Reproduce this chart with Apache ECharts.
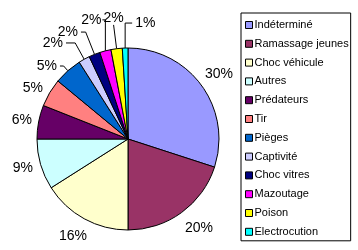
<!DOCTYPE html>
<html><head><meta charset="utf-8">
<script src="https://cdn.jsdelivr.net/npm/echarts@6/dist/echarts.min.js"></script>
<style>html,body{margin:0;padding:0;background:#fff}#c{width:358px;height:250px}</style>
</head><body><div id="c"></div>
<script>
const categories = ['Indéterminé','Ramassage jeunes','Choc véhicule','Autres','Prédateurs','Tir','Pièges','Captivité','Choc vitres','Mazoutage','Poison','Electrocution'];
const values = [30, 20, 16, 9, 6, 5, 5, 2, 2, 2, 2, 1];
const colors = ['#9999FF','#993366','#FFFFCC','#CCFFFF','#660066','#FF8080','#0066CC','#CCCCFF','#000080','#FF00FF','#FFFF00','#00FFFF'];

// label placement styling (leader line lengths per slice)
const lineLen  = [19.5, 19, 19.7, 13, 10.6, 9.2, 6.3, 18.6, 24, 32, 24, 25];
const lineLen2 = [-15.4, -10.7, -15.4, -7.8, -6.8, -4.3, 3.7, 9.2, 4.7, 0, 0, 0];
const showLine = [false,false,false,false,false,false,true,true,true,true,true,true];

const font = 'Liberation Sans, Arial, sans-serif';
const chart = echarts.init(document.getElementById('c'));
const data = categories.map((n,i)=>({
  name:n, value:values[i],
  labelLine:{show: showLine[i], length: lineLen[i], length2: lineLen2[i]}
}));
chart.setOption({
  animation:false,
  color:colors,
  legend:{
    orient:'vertical', left:241, top:13,
    itemWidth:7, itemHeight:7, itemGap:6.8,
    icon:'rect',
    itemStyle:{borderColor:'#000', borderWidth:1},
    borderColor:'#000', borderWidth:1,
    padding:[6,2,3,4],
    textStyle:{fontFamily:font, fontSize:11, color:'#000', lineHeight:12, padding:[0,0,0,-3]},
    data:categories
  },
  series:[{
    type:'pie', center:[128,139], radius:91,
    startAngle:90, clockwise:true,
    avoidLabelOverlap:false,
    itemStyle:{borderColor:'#000', borderWidth:1},
    label:{position:'outside', fontFamily:font, fontSize:14, color:'#000',
      distanceToLabelLine:3, overflow:'none',
      formatter:p=>Math.round(p.percent)+'%'},
    labelLine:{lineStyle:{color:'#000', width:1}, maxSurfaceAngle:180},
    labelLayout:function(p){
      const pts = p.labelLinePoints;
      if (!pts) return {};
      if (p.dataIndex === 9) {
        const ty = pts[1][1], x0 = pts[0][0];
        return {x: x0 - 4, y: ty, align:'right', verticalAlign:'middle',
                labelLinePoints:[pts[0], [x0, ty], [x0 - 3, ty]]};
      }
      if (p.dataIndex === 10) {
        return {x: pts[1][0], y: pts[1][1], align:'center', verticalAlign:'bottom',
                labelLinePoints:[pts[0], pts[1]]};
      }
      if (p.dataIndex === 11) {
        const ty = pts[1][1], x0 = pts[0][0];
        return {x: x0 + 10, y: ty, align:'left', verticalAlign:'middle',
                labelLinePoints:[pts[0], [x0, ty], [x0 + 7, ty]]};
      }
      return {};
    },
    emphasis:{disabled:true},
    data:data
  }]
});
</script></body></html>
